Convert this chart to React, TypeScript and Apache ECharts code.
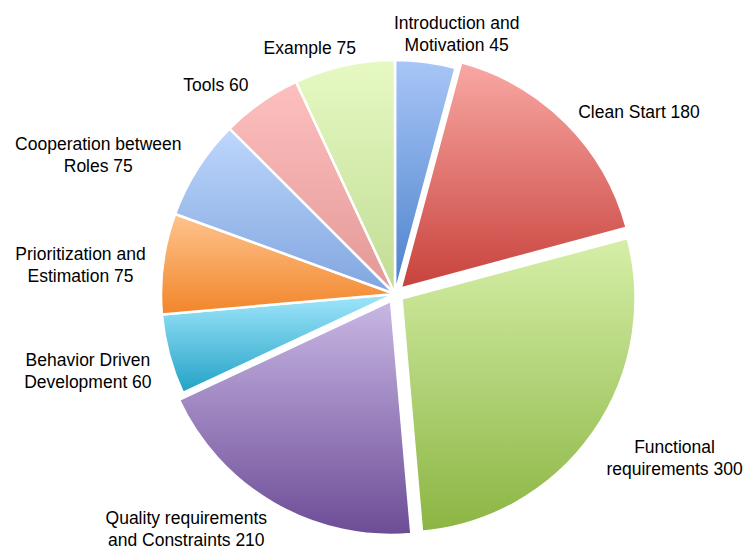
import React, { useEffect, useRef } from 'react';
import * as echarts from 'echarts';

const categories = [
  'Introduction and\nMotivation',
  'Clean Start',
  'Functional\nrequirements',
  'Quality requirements\nand Constraints',
  'Behavior Driven\nDevelopment',
  'Prioritization and\nEstimation',
  'Cooperation between\nRoles',
  'Tools',
  'Example',
];
const values = [45, 180, 300, 210, 60, 75, 75, 60, 75];
const exploded = [false, true, true, true, false, false, false, false, false];
const topColors = ['#a8c6f7', '#f9a8a4', '#d6efa8', '#c8b7e4', '#a0e6fb', '#fec48e', '#bed7fc', '#fdc0bf', '#e6f9c3'];
const bottomColors = ['#4a80cb', '#c8423c', '#8bb543', '#6d4c96', '#22a2c6', '#f2852a', '#80a5df', '#e29896', '#c1dc94'];
// label nudges (style only)
const labelNudgeX = [-39, 0, 0, 3, 5, 5.5, 4, 3, 20.5];
const labelNudgeY = [-10, -4, 19, 17, 12, 4, -4, -3, 0];

export default function App() {
  const ref = useRef<HTMLDivElement>(null);
  useEffect(() => {
    document.body.style.margin = '0';
    const chart = echarts.init(ref.current!, null, { renderer: 'svg' });
    const sliceData = categories.map((name, i) => ({
      name,
      value: values[i],
      selected: exploded[i],
      itemStyle: {
        color: new echarts.graphic.LinearGradient(0, 0, 0, 1, [
          { offset: 0, color: topColors[i] },
          { offset: 1, color: bottomColors[i] },
        ]),
      },
    }));
    const labelData = categories.map((name, i) => ({ name, value: values[i] }));
    const center = [395, 294];
    const radius = 234;
    chart.setOption({
      animation: false,
      backgroundColor: '#ffffff',
      series: [
        {
          type: 'pie',
          center,
          radius,
          startAngle: 90,
          clockwise: true,
          selectedMode: 'multiple',
          selectedOffset: 8,
          avoidLabelOverlap: false,
          itemStyle: { borderColor: '#ffffff', borderWidth: 2.5 },
          select: { itemStyle: { borderColor: '#ffffff', borderWidth: 2.5 } },
          emphasis: { disabled: true },
          label: { show: false },
          labelLine: { show: false },
          data: sliceData,
          z: 2,
        },
        {
          type: 'pie',
          center,
          radius,
          startAngle: 90,
          clockwise: true,
          silent: true,
          selectedMode: false,
          avoidLabelOverlap: false,
          itemStyle: { color: 'rgba(0,0,0,0)', borderWidth: 0 },
          emphasis: { disabled: true },
          label: {
            show: true,
            position: 'outside',
            formatter: '{b} {c}',
            fontFamily: 'Liberation Sans, Arial, sans-serif',
            fontSize: 17.5,
            lineHeight: 22,
            color: '#000000',
            distanceToLabelLine: 5,
          },
          labelLine: { show: false, length: 18, length2: 0 },
          labelLayout: (p: any) => ({
            x: p.labelRect.x + p.labelRect.width / 2 + labelNudgeX[p.dataIndex],
            y: p.labelRect.y + p.labelRect.height / 2 + labelNudgeY[p.dataIndex],
            align: 'center',
            verticalAlign: 'middle',
          }),
          data: labelData,
          z: 3,
        },
      ],
    });
    return () => chart.dispose();
  }, []);
  return <div ref={ref} style={{ width: 747, height: 552 }} />;
}
